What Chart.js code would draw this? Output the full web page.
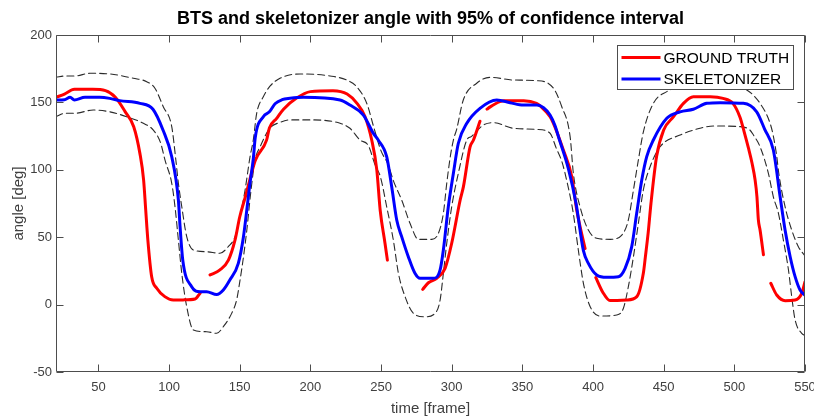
<!DOCTYPE html>
<html>
<head>
<meta charset="utf-8">
<script src="https://cdn.jsdelivr.net/npm/chart.js@4.4.1/dist/chart.umd.min.js"></script>
<style>
  html, body { margin: 0; padding: 0; background: #fff; }
  #wrap { width: 814px; height: 418px; }
</style>
</head>
<body>
<div id="wrap"><canvas id="myChart"></canvas></div>
<script>
const xTicks = [50, 100, 150, 200, 250, 300, 350, 400, 450, 500, 550]
const yTicks = [-50, 0, 50, 100, 150, 200]

// ground truth, null = gap in the line
const truthX = [20, 26, 33, 46, 55, 62, 69, 75, 79.4, 82, 83.5, 85, 87.7, 91.3, 97, 103, 110, 118.4, 122,
  125,
  129, 136, 142, 146.7, 150, 154, 157, 161, 169, 171, 176, 181, 190, 200, 216, 226, 233, 238.7, 243.4, 247, 249.4, 252.8, 254.5,
  267,
  279.5, 283.5, 289.4, 295.3, 300, 306, 308.3, 313, 315.4, 320,
  322.5,
  325, 327, 334, 337, 351, 360, 363, 369.6, 372, 379, 385, 388.5, 394.4,
  398,
  402, 407, 412, 424, 431, 435.6, 437, 439, 441, 445, 450, 457, 464, 471, 483, 492, 499, 504, 507, 510, 512.5, 514.7, 516, 517, 518.2, 520.6,
  523,
  525.8, 530, 536, 543, 547.7, 550]
const truthY = [153.8, 156.2, 159.7, 159.7, 158.7, 153.8, 143, 132, 112, 92.4, 70, 47.9, 20.7, 12.1, 5.9, 3.4, 3.5, 4.2, 8.5,
  null,
  22, 25.7, 33, 48, 65, 80, 92, 107, 122, 131, 138, 145, 153, 158, 158.7, 156.2, 149.3, 139.4, 122.1, 100, 70, 45.5, 33,
  null,
  11.3, 16.2, 19.5, 26.9, 45.5, 77.6, 87.5, 117, 122.1, 136,
  null,
  145, 146.5, 150.5, 151.3, 151.3, 149.3, 147, 139.4, 134.5, 114.7, 94.9, 70, 41.5,
  null,
  20, 9, 3, 3.4, 5.9, 23.2, 35, 53, 75, 110, 129.5, 139.4, 149.3, 154.2, 154.2, 153, 149.3, 139, 128, 116, 105, 92.4, 80, 62.8, 55.3, 37,
  null,
  15.8, 7.1, 2.9, 3.4, 8.4, 17]

const skelX = [20, 26, 30, 33, 40.5, 51, 58, 65, 79.4, 88.6, 95.7, 101.9, 106.6, 107.8, 109.7, 116, 122, 126.6, 133.7, 138.4, 143, 149, 152.6, 155, 157, 159.6, 161, 166.7, 171, 175, 180, 185.6, 195, 221, 228, 237.5, 244.6, 248, 254, 257.6, 261.1, 264.6, 269.3, 274, 277.6, 287, 291.8, 294.1, 297.6, 301.2, 304.7, 310.7, 320, 331.9, 341.3, 350.7, 360.2, 365, 369.6, 373, 376, 382.5, 388, 393.2, 396.7, 402.6, 409.7, 418, 422.7, 427.4, 430.9, 434.5, 438, 442.7, 452.2, 461.6, 471, 480.5, 490, 506.4, 515.8, 521.5, 527.6, 532.4, 535.9, 539.5, 543, 546.5, 550]
const skelY = [151.8, 152, 153.8, 151.8, 153.8, 153.8, 153, 151.3, 149.3, 144.9, 129.5, 109.7, 77.6, 57.8, 33, 13.3, 9.6, 9.6, 7.5, 10.8, 18.2, 30.6, 50, 70, 88, 108, 124, 139.4, 143, 149, 152, 153, 153.8, 151.8, 148, 140.6, 127, 122.1, 109.7, 87, 62.8, 50.4, 35.5, 23.2, 19.5, 19.5, 25.7, 40.5, 72.6, 97.4, 119.7, 134.5, 145.6, 151.8, 149.8, 148, 148, 146, 140.6, 133, 123, 101, 75, 40, 30.6, 22, 20.2, 20.7, 26.9, 43, 67.7, 92.4, 109.7, 122.1, 138.2, 143, 144.9, 149.3, 149.8, 149.3, 143, 130, 114.7, 80, 55.3, 35.5, 20.7, 10.8, 7]

// confidence interval
const upperX = [20, 26.4, 33.4, 44, 58.2, 74.7, 84.2, 90, 95.9, 101.9, 104.8, 106.6, 109, 112.5, 117.2, 126.6, 136, 141.9, 146.7, 150.2, 153.8, 157.3, 159.6, 162, 166.7, 171.4, 178.5, 192.7, 213.9, 225.7, 232.8, 240, 245, 250, 255, 258.7, 264.6, 270.5, 276.4, 285.9, 290.6, 294.1, 296.5, 299, 301.2, 303.5, 308.2, 317.7, 327.2, 343.6, 360.2, 372, 377.9, 383.8, 386.1, 390.8, 396.7, 402.6, 412.1, 420.4, 425, 428.6, 432.1, 435.6, 442.7, 452.2, 461.6, 475.7, 494.6, 508.8, 518.2, 525.3, 527.6, 530, 531.5, 535.9, 540.6, 545.3, 550]
const upperY = [168.6, 169.6, 169.6, 171.6, 171.1, 167.9, 165.4, 160.5, 146.8, 132, 107.3, 90, 72.6, 50.4, 40.5, 39.2, 38.1, 43, 50.4, 65.2, 85, 109.7, 122.1, 141.9, 154.2, 162, 167.9, 171.1, 169.6, 166.6, 161.6, 149, 131, 114, 104, 92, 77.6, 60.3, 48.4, 48.4, 52.9, 67.7, 90, 109.7, 122.1, 130, 151.8, 164.2, 168.6, 166.6, 166.1, 160.5, 146.8, 124.6, 97.4, 72.6, 55.3, 49.2, 48.4, 51.6, 62.8, 85, 107.3, 128, 149.3, 158, 161.6, 164.2, 163, 159.2, 149.3, 134.5, 125, 110, 97, 72.6, 55.3, 43, 36]

const lowerX = [20, 26.4, 33.4, 46.4, 58.2, 70, 81.8, 88.9, 94, 97.1, 101.9, 104.2, 106.6, 109, 112.5, 117.2, 126.6, 133.7, 138.4, 144.3, 147.8, 150.2, 152.6, 155, 158, 161, 164.4, 171.4, 178, 185.6, 202, 221, 228, 235.1, 241, 246, 249.5, 254, 258.7, 262.3, 267, 272.9, 281.1, 288.2, 291.8, 294.1, 296.5, 300, 304.7, 310.7, 313.8, 322.4, 329.5, 343.6, 360.2, 369.6, 374, 378, 381.4, 386, 389.6, 393.2, 398, 405, 416.8, 421.5, 425, 428.6, 432.1, 435.6, 440.4, 447.5, 461.6, 475.7, 485.2, 504.1, 511, 513.5, 518.2, 524.1, 527.6, 531.2, 534.7, 538.3, 540.6, 543, 547.7, 550]
const lowerY = [139.4, 141.9, 141.9, 144.4, 143, 139.4, 134.5, 129.5, 120, 107.3, 90, 72.6, 47.9, 23.2, -1.6, -18.8, -20.1, -21.3, -16.4, -6.5, 3.4, 18, 35, 55, 85, 108, 117, 131, 135, 137, 137, 134.5, 130.8, 122.1, 118, 103, 95, 72.6, 47.9, 23.2, 5.9, -6.5, -9, -6.5, 3.4, 23.2, 45.5, 72.6, 97.4, 122.1, 124.6, 133.2, 135, 130.8, 130, 127.1, 116, 106, 92, 68, 40.5, 15.8, -1.6, -8.5, -7.7, -2.7, 13.3, 35.5, 60.3, 85, 102.3, 117.1, 125.8, 130.8, 132.5, 132, 129.5, 125.8, 117.1, 97.4, 80, 67.7, 47.9, 25.7, 5.9, -11.4, -21.3, -23]

const pts = (xs, ys) => xs.map((x, i) => ({ x: x, y: ys[i] }))

const font = "'Liberation Sans', Arial, Helvetica, sans-serif"
const axisColor = '#4d4d4d'
const textColor = '#404040'

// box round the plot with inward ticks, like matlab
const frame = {
  id: 'frame',
  afterDatasetsDraw(chart) {
    const { ctx, chartArea: a, scales: { x, y } } = chart
    const l = Math.round(a.left) + .5, r = Math.round(a.right) - .5
    const t = Math.round(a.top) + .5, b = Math.round(a.bottom) - .5
    ctx.save()
    ctx.strokeStyle = axisColor
    ctx.lineWidth = 1
    ctx.beginPath()
    ctx.rect(l, t, r - l, b - t)
    xTicks.forEach(v => {
      const px = Math.round(x.getPixelForValue(v)) + .5
      ctx.moveTo(px, b); ctx.lineTo(px, b - 7)
      ctx.moveTo(px, t); ctx.lineTo(px, t + 7)
    })
    yTicks.forEach(v => {
      const py = Math.round(y.getPixelForValue(v)) + .5
      ctx.moveTo(l, py); ctx.lineTo(l + 7, py)
      ctx.moveTo(r, py); ctx.lineTo(r - 7, py)
    })
    ctx.stroke()
    ctx.restore()
  }
}

const legendBox = {
  id: 'legendBox',
  afterDraw(chart) {
    const { ctx } = chart
    const items = chart.data.datasets.filter(d => d.label)
    const left = 617.5, top = 45.5, w = 176, h = 44
    ctx.save()
    ctx.fillStyle = '#fff'
    ctx.fillRect(left, top, w, h)
    ctx.strokeStyle = axisColor
    ctx.lineWidth = 1
    ctx.strokeRect(left, top, w, h)
    ctx.font = '15.5px ' + font
    ctx.textBaseline = 'middle'
    items.forEach((d, i) => {
      const yy = top + 12 + i * 21.6
      ctx.strokeStyle = d.borderColor
      ctx.lineWidth = 3
      ctx.beginPath()
      ctx.moveTo(left + 4, yy)
      ctx.lineTo(left + 43, yy)
      ctx.stroke()
      ctx.fillStyle = '#000'
      ctx.fillText(d.label, left + 46, yy + 1)
    })
    ctx.restore()
  }
}

const ctx = document.getElementById('myChart')

const grafica = new Chart(ctx, {
  type: 'line',
  data: {
    datasets: [{
      label: 'GROUND TRUTH',
      data: pts(truthX, truthY),
      borderColor: '#ff0000',
      borderWidth: 3,
      order: 1
    }, {
      label: 'SKELETONIZER',
      data: pts(skelX, skelY),
      borderColor: '#0000ff',
      borderWidth: 3,
      order: 0
    }, {
      data: pts(upperX, upperY),
      borderColor: '#2a2a2a',
      borderWidth: 1.1,
      borderDash: [7, 4],
      order: 2
    }, {
      data: pts(lowerX, lowerY),
      borderColor: '#2a2a2a',
      borderWidth: 1.1,
      borderDash: [7, 4],
      order: 2
    }]
  },
  options: {
    responsive: true,
    maintainAspectRatio: false,
    animation: false,
    spanGaps: false,
    elements: {
      point: { radius: 0 },
      line: { cubicInterpolationMode: 'monotone', borderCapStyle: 'round', borderJoinStyle: 'round' }
    },
    layout: { padding: { right: 9 } },
    plugins: {
      legend: { display: false },
      tooltip: { enabled: false },
      title: {
        display: true,
        fullSize: false,
        text: 'BTS and skeletonizer angle with 95% of confidence interval',
        color: '#000',
        font: { family: font, size: 18, weight: 'bold' },
        padding: { top: 8.5, bottom: 4.9 }
      }
    },
    scales: {
      x: {
        type: 'linear',
        min: 20,
        max: 550,
        grid: { display: false, drawTicks: false },
        border: { display: false },
        afterBuildTicks: s => { s.ticks = xTicks.map(v => ({ value: v })) },
        afterFit: s => { s.height = 46; s.paddingLeft = 0; s.paddingRight = 0 },
        ticks: { color: textColor, padding: 8, maxRotation: 0, autoSkip: false, font: { family: font, size: 13 } },
        title: { display: true, text: 'time [frame]', color: textColor, padding: { top: 0, bottom: 0 }, font: { family: font, size: 15 } }
      },
      y: {
        min: -50,
        max: 200,
        grid: { display: false, drawTicks: false },
        border: { display: false },
        afterBuildTicks: s => { s.ticks = yTicks.map(v => ({ value: v })) },
        afterFit: s => { s.width = 56; s.paddingTop = 0; s.paddingBottom = 0 },
        ticks: { color: textColor, padding: 4, font: { family: font, size: 13 } },
        title: { display: true, text: 'angle [deg]', color: textColor, padding: { top: 10, bottom: 0 }, font: { family: font, size: 15 } }
      }
    }
  },
  plugins: [frame, legendBox]
})
</script>
</body>
</html>
